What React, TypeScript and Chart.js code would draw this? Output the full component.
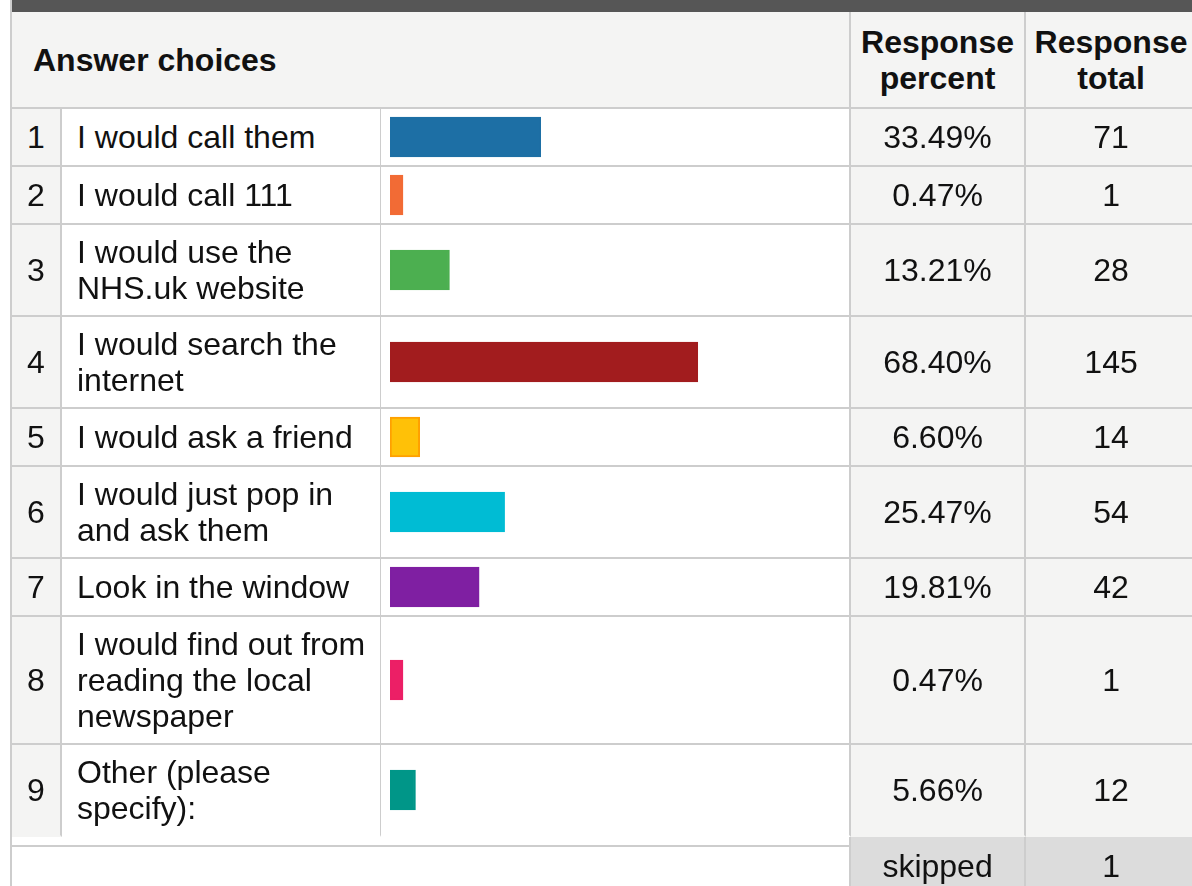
import React, { useEffect, useRef } from "react";
import { Chart, registerables } from "chart.js";

Chart.register(...registerables);

const categories = [
  "I would call them",
  "I would call 111",
  "I would use the\nNHS.uk website",
  "I would search the\ninternet",
  "I would ask a friend",
  "I would just pop in\nand ask them",
  "Look in the window",
  "I would find out from\nreading the local\nnewspaper",
  "Other (please\nspecify):",
];
const percents = [33.49, 0.47, 13.21, 68.4, 6.6, 25.47, 19.81, 0.47, 5.66];
const totals = [71, 1, 28, 145, 14, 54, 42, 1, 12];
const skippedCount = 1;
const barColors = ["#1d6fa5", "#f26b35", "#4caf50", "#a21c1e", "#ffc107", "#00bcd4", "#7f1fa2", "#ec1f66", "#009688"];
const barBorders = ["#1d6fa5", "#f26b35", "#4caf50", "#a21c1e", "#ffa000", "#00bcd4", "#7f1fa2", "#ec1f66", "#009688"];
const headers = ["Answer choices", "Response\npercent", "Response\ntotal"];

const LINE = "#cdcdcd";
const GREY_BG = "#f4f4f3";
const BAR_W = 468;

function BarCell(props: { label: string; value: number; color: string; border: string; height: number }) {
  const ref = useRef<HTMLCanvasElement | null>(null);
  useEffect(() => {
    if (!ref.current) return;
    const chart = new Chart(ref.current, {
      type: "bar",
      data: {
        labels: [props.label],
        datasets: [
          {
            data: [props.value],
            backgroundColor: props.color,
            borderColor: props.border,
            borderWidth: 2,
            borderSkipped: false,
            barThickness: 40,
            minBarLength: 13,
          } as any,
        ],
      },
      options: {
        indexAxis: "y",
        responsive: false,
        maintainAspectRatio: false,
        animation: false,
        events: [],
        layout: { padding: { left: 9, right: 9, top: 0, bottom: 0 } },
        plugins: { legend: { display: false }, tooltip: { enabled: false } },
        scales: {
          x: { min: 0, max: 100, display: false },
          y: { display: false },
        },
      },
    });
    return () => chart.destroy();
  }, [props.label, props.value, props.color, props.border, props.height]);
  return (
    <canvas
      ref={ref}
      width={BAR_W}
      height={props.height}
      style={{ display: "block", width: BAR_W, height: props.height }}
    />
  );
}

export default function App() {
  const font = '"Liberation Sans", Arial, Helvetica, sans-serif';
  const headCell: React.CSSProperties = {
    background: GREY_BG,
    fontWeight: "bold",
    padding: "12px 0 11px",
    borderBottom: `2px solid ${LINE}`,
    borderRight: `2px solid ${LINE}`,
    textAlign: "center",
    verticalAlign: "middle",
    whiteSpace: "pre-line",
  };
  return (
    <div
      style={{
        position: "absolute",
        left: 0,
        top: 0,
        width: 1192,
        height: 886,
        overflow: "hidden",
        background: "#fff",
        fontFamily: font,
        fontSize: 32,
        lineHeight: "36px",
        color: "#111",
      }}
    >
      <div
        style={{
          position: "absolute",
          left: 10,
          top: 0,
          width: 1196,
          height: 886,
          borderLeft: `2px solid ${LINE}`,
        }}
      >
        <div style={{ height: 12, background: "#565656", width: "100%" }} />
        <table
          style={{
            borderCollapse: "separate",
            borderSpacing: 0,
            tableLayout: "fixed",
            width: 1186,
          }}
        >
          <colgroup>
            <col style={{ width: 50 }} />
            <col style={{ width: 319 }} />
            <col style={{ width: 470 }} />
            <col style={{ width: 175 }} />
            <col style={{ width: 172 }} />
          </colgroup>
          <tbody>
            <tr>
              <td colSpan={3} style={{ ...headCell, textAlign: "left", paddingLeft: 21 }}>
                {headers[0]}
              </td>
              <td style={headCell}>{headers[1]}</td>
              <td style={headCell}>{headers[2]}</td>
            </tr>
            {categories.map((cat, i) => {
              const lines = cat.split("\n").length;
              const h = Math.max(56, lines * 36 + 18);
              const last = i === categories.length - 1;
              const bb = last ? "2px solid transparent" : `2px solid ${LINE}`;
              const base: React.CSSProperties = {
                borderBottom: bb,
                verticalAlign: "middle",
                padding: "9px 0",
              };
              return (
                <tr key={i}>
                  <td style={{ ...base, background: GREY_BG, textAlign: "center", borderRight: `2px solid ${LINE}` }}>
                    {i + 1}
                  </td>
                  <td
                    style={{
                      ...base,
                      background: "#fff",
                      padding: "9px 4px 9px 15px",
                      whiteSpace: "pre-line",
                      borderRight: `1px solid ${LINE}`,
                    }}
                  >
                    {cat}
                  </td>
                  <td style={{ ...base, padding: 0, background: "#fff", borderRight: `2px solid ${LINE}` }}>
                    <BarCell label={cat} value={percents[i]} color={barColors[i]} border={barBorders[i]} height={h} />
                  </td>
                  <td style={{ ...base, background: GREY_BG, textAlign: "center", borderRight: `2px solid ${LINE}` }}>
                    {percents[i].toFixed(2) + "%"}
                  </td>
                  <td style={{ ...base, background: GREY_BG, textAlign: "center", borderRight: `2px solid ${LINE}` }}>
                    {totals[i]}
                  </td>
                </tr>
              );
            })}
            <tr>
              <td
                colSpan={3}
                style={{
                  background: "#fff",
                  boxShadow: `inset 0 8px 0 0 #fff, inset 0 10px 0 0 ${LINE}`,
                  borderRight: `2px solid ${LINE}`,
                  padding: "11px 0",
                }}
              >
                {"\u00a0"}
              </td>
              <td style={{ background: "#dcdcdc", textAlign: "center", padding: "11px 0", borderRight: `2px solid ${LINE}` }}>
                skipped
              </td>
              <td style={{ background: "#dcdcdc", textAlign: "center", padding: "11px 0", borderRight: `2px solid ${LINE}` }}>
                {skippedCount}
              </td>
            </tr>
          </tbody>
        </table>
      </div>
    </div>
  );
}
